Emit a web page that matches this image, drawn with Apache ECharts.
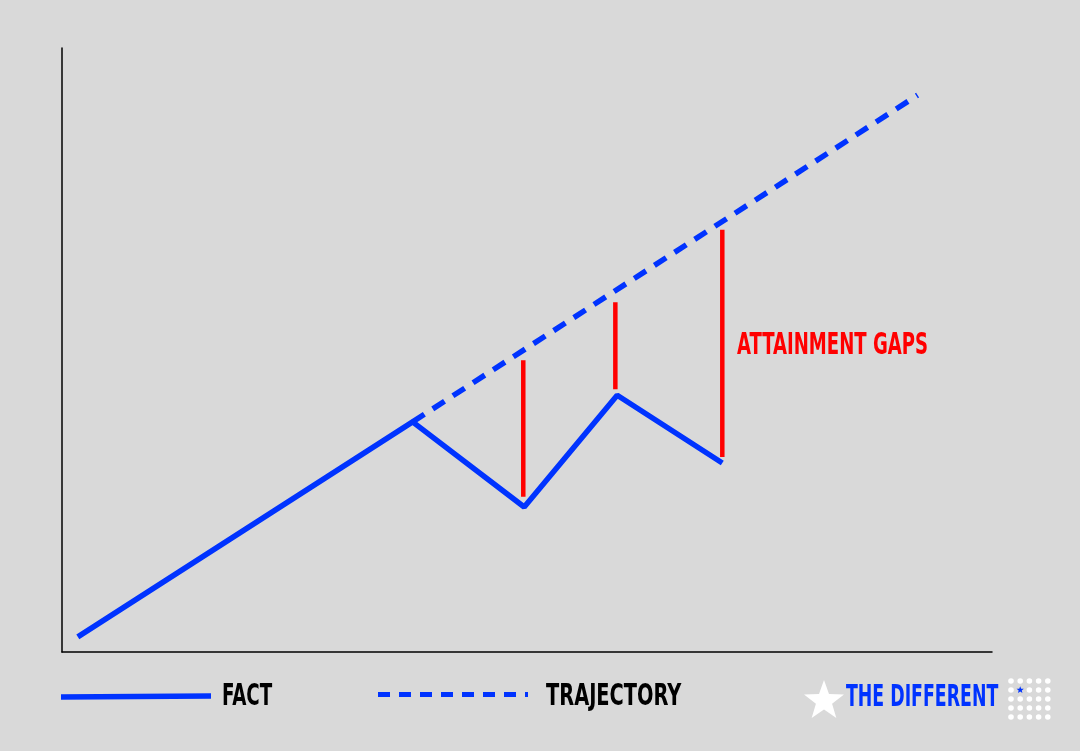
<!DOCTYPE html>
<html>
<head>
<meta charset="utf-8">
<script src="https://cdn.jsdelivr.net/npm/echarts@6/dist/echarts.min.js"></script>
<style>
html,body{margin:0;padding:0;background:#d9d9d9;}
#chart{width:1080px;height:751px;}
</style>
</head>
<body>
<div id="chart"></div>
<script>
// ---- data ----
const factX = [1.7, 37.7, 49.7, 59.7, 71.0];
const factY = [2.5, 38.1, 24.0, 42.5, 31.3];
const trajX = [37.7, 92.0];
const trajY = [38.1, 92.2];
const gapX = [49.6, 59.5, 71.0];
const gapTop = [48.3, 57.9, 69.9];
const gapBottom = [25.7, 43.5, 32.3];
const legendLabels = ['FACT', 'TRAJECTORY'];
const annotationText = 'ATTAINMENT GAPS';
const brandText = 'THE DIFFERENT';

const BLUE = '#0033ff';
const RED = '#ff0000';
const FONT = '"Liberation Sans Narrow", "DejaVu Sans Condensed", sans-serif';

const chart = echarts.init(document.getElementById('chart'), null, {renderer: 'canvas'});

function starPoints(cx, cy, R, r) {
  const pts = [];
  for (let i = 0; i < 10; i++) {
    const a = -Math.PI / 2 + i * Math.PI / 5;
    const rad = i % 2 === 0 ? R : r;
    pts.push([cx + rad * Math.cos(a), cy + rad * Math.sin(a)]);
  }
  return pts;
}

const graphics = [];
// legend: FACT
graphics.push({type: 'line', shape: {x1: 61, y1: 697, x2: 211, y2: 696}, style: {stroke: BLUE, lineWidth: 5.5}});
graphics.push({type: 'text', x: 222, y: 697, scaleX: 0.655, style: {text: legendLabels[0], fill: '#000', font: 'bold 31px ' + FONT, textVerticalAlign: 'middle'}});
// legend: TRAJECTORY
graphics.push({type: 'line', shape: {x1: 378, y1: 694.5, x2: 528, y2: 694.5}, style: {stroke: BLUE, lineWidth: 5, lineDash: [12, 9]}});
graphics.push({type: 'text', x: 546, y: 697, scaleX: 0.695, style: {text: legendLabels[1], fill: '#000', font: 'bold 31px ' + FONT, textVerticalAlign: 'middle'}});
// annotation
graphics.push({type: 'text', x: 737, y: 346, scaleX: 0.67, style: {text: annotationText, fill: RED, font: 'bold 30px ' + FONT, textVerticalAlign: 'middle'}});
// brand
graphics.push({type: 'polygon', shape: {points: starPoints(824, 701, 21, 8.5)}, style: {fill: '#ffffff'}});
graphics.push({type: 'text', x: 846, y: 698, scaleX: 0.643, style: {text: brandText, fill: BLUE, font: 'bold 30px ' + FONT, textVerticalAlign: 'middle'}});
const dotXs = [1011, 1020.2, 1029.4, 1038.6, 1047.8];
const dotYs = [681, 690, 699, 708, 717];
for (let i = 0; i < 5; i++) {
  for (let j = 0; j < 5; j++) {
    if (i === 1 && j === 1) {
      graphics.push({type: 'polygon', shape: {points: starPoints(dotXs[i], dotYs[j], 3.8, 1.6)}, style: {fill: BLUE}});
    } else {
      graphics.push({type: 'circle', shape: {cx: dotXs[i], cy: dotYs[j], r: 2.8}, style: {fill: '#ffffff'}});
    }
  }
}

const option = {
  backgroundColor: '#d9d9d9',
  animation: false,
  grid: {left: 62, right: 88, top: 48, bottom: 99, containLabel: false},
  xAxis: {
    type: 'value', min: 0, max: 100,
    axisLine: {show: true, lineStyle: {color: '#000', width: 1.5}},
    axisTick: {show: false}, axisLabel: {show: false}, splitLine: {show: false}
  },
  yAxis: {
    type: 'value', min: 0, max: 100,
    axisLine: {show: true, lineStyle: {color: '#000', width: 1.5}},
    axisTick: {show: false}, axisLabel: {show: false}, splitLine: {show: false}
  },
  series: [
    {
      name: 'TRAJECTORY', type: 'line',
      data: trajX.map((x, i) => [x, trajY[i]]),
      symbol: 'none',
      lineStyle: {color: BLUE, width: 5.5, type: [14, 10]},
      z: 2
    },
    {
      name: 'FACT', type: 'line',
      data: factX.map((x, i) => [x, factY[i]]),
      symbol: 'none',
      lineStyle: {color: BLUE, width: 5.5},
      z: 3
    },
    ...gapX.map((x, i) => ({
      name: 'gap' + i, type: 'line',
      data: [[x, gapBottom[i]], [x, gapTop[i]]],
      symbol: 'none',
      lineStyle: {color: RED, width: 4.5, cap: 'butt'},
      z: 4
    }))
  ],
  graphic: graphics
};
chart.setOption(option);
</script>
</body>
</html>
